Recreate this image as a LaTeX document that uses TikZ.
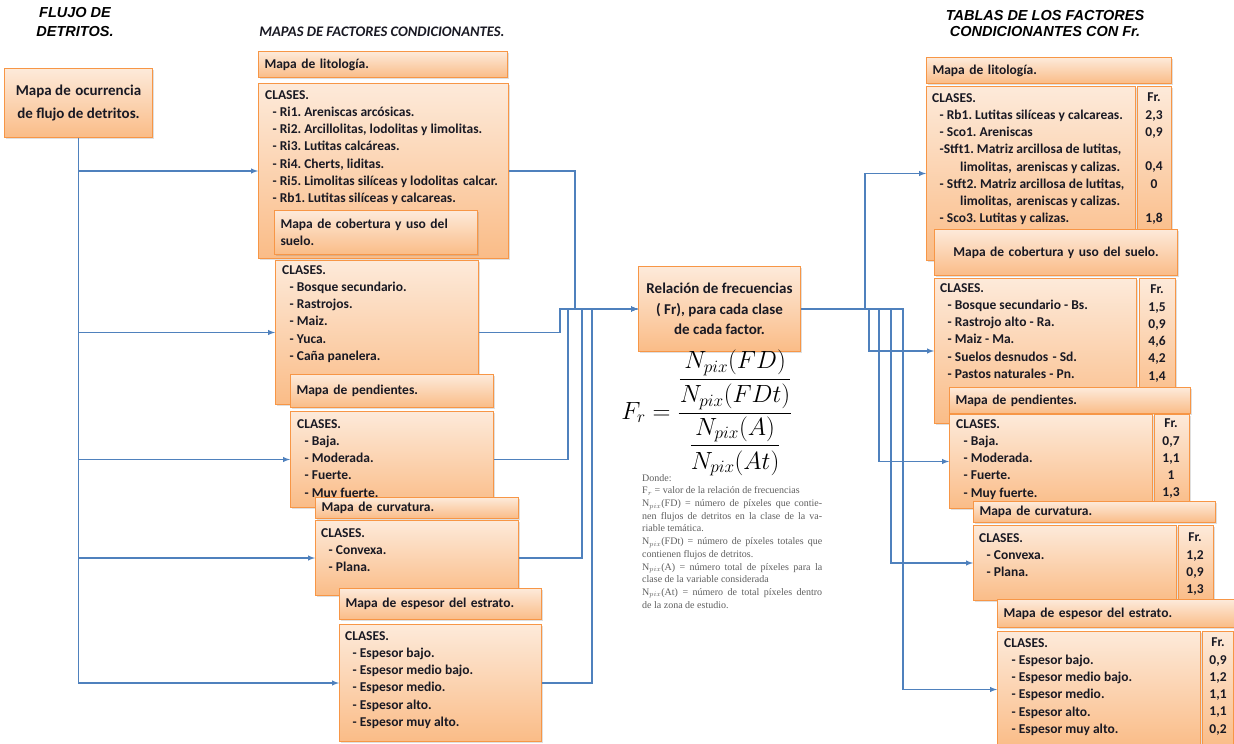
\documentclass[tikz,border=0pt]{standalone}
\usepackage{fontspec}
\setmainfont{Carlito}
\newfontfamily\titulofont{Liberation Sans}
\newfontfamily\notafont{Liberation Serif}
\usepackage{amsmath}
\usetikzlibrary{shadows}

\definecolor{cajaclara}{RGB}{253,234,218}
\definecolor{cajaosc}{RGB}{250,188,135}
\definecolor{cajaborde}{RGB}{247,150,70}
\definecolor{flecha}{RGB}{79,129,189}
\definecolor{letra}{RGB}{25,25,35}
\definecolor{nota}{RGB}{95,95,95}

\frenchspacing
\tolerance=9999
\hbadness=10000
\newcommand{\cls}{\hspace*{7.5pt}- }

\tikzset{
  caja/.style={draw=cajaborde, line width=1pt, top color=cajaclara, bottom color=cajaosc,
    drop shadow={shadow xshift=1.2pt, shadow yshift=-1.5pt, opacity=0.25},
    anchor=north west, inner sep=0pt},
  cabeza/.style={caja, align=left, inner xsep=6pt, text=letra,
    font=\bfseries\fontsize{13.5}{17.5}\selectfont},
  lista/.style={anchor=north west, inner sep=0pt, align=left, text=letra,
    font=\bfseries\fontsize{13.5}{17.25}\selectfont},
  valores/.style={anchor=north, inner sep=0pt, align=center, text=letra,
    font=\bfseries\fontsize{13.5}{17.25}\selectfont},
  titulo/.style={inner sep=0pt, align=center, text=black,
    font=\titulofont\bfseries\itshape\fontsize{14.5}{19}\selectfont},
  conector/.style={draw=flecha, line width=1.4pt},
}

\begin{document}
\begin{tikzpicture}[x=1pt,y=-1pt]
\useasboundingbox[fill=white] (0,0) rectangle (1234,744);

\node[titulo] (tflujo) at (75,22) {FLUJO DE\\DETRITOS.};
\node[inner sep=0pt, text=letra, font=\bfseries\itshape\fontsize{14.6}{17}\selectfont] (tmapas) at (382,32) {MAPAS DE FACTORES CONDICIONANTES.};
\node[titulo, font=\titulofont\bfseries\itshape\fontsize{14.5}{16}\selectfont] (ttablas) at (1045,24) {TABLAS DE LOS FACTORES\\CONDICIONANTES CON Fr.};

\node[caja, align=center, text=letra, font=\bfseries\fontsize{15}{23}\selectfont,
  minimum width=148pt, minimum height=69pt] (orig) at (4,68) {Mapa de\hspace{4.5pt}ocurrencia\\de flujo de detritos.};

\node[cabeza, text width=237pt, minimum height=26pt] (lithead) at (258,51) {Mapa de\hspace{4.5pt}litología.};
\node[caja, minimum width=250pt, minimum height=175pt] (litcls) at (258,83) {};
\node[lista] (littxt) at (265,90) {CLASES.\\\cls Ri1. Areniscas arcósicas.\\\cls Ri2. Arcillolitas, lodolitas y limolitas.\\\cls Ri3. Lutitas calcáreas.\\\cls Ri4. Cherts, liditas.\\\cls Ri5. Limolitas silíceas y lodolitas\hspace{4.5pt}calcar.\\\cls Rb1. Lutitas silíceas y calcareas.};

\node[cabeza, text width=191pt, minimum height=44pt] (cobhead) at (274,210) {Mapa de\hspace{4.5pt}cobertura y uso del\\suelo.};
\node[caja, minimum width=203pt, minimum height=144pt] (cobcls) at (275,260) {};
\node[lista] (cobtxt) at (282,265) {CLASES.\\\cls Bosque secundario.\\\cls Rastrojos.\\\cls Maiz.\\\cls Yuca.\\\cls Caña panelera.};

\node[cabeza, text width=191pt, minimum height=33pt] (penhead) at (290,374) {Mapa de\hspace{4.5pt}pendientes.};
\node[caja, minimum width=203pt, minimum height=96pt] (pencls) at (290,411) {};
\node[lista] (pentxt) at (297,419) {CLASES.\\\cls Baja.\\\cls Moderada.\\\cls Fuerte.\\\cls Muy fuerte.};

\node[cabeza, text width=191pt, minimum height=21pt] (curhead) at (315,497) {Mapa de\hspace{4.5pt}curvatura.};
\node[caja, minimum width=203pt, minimum height=75pt] (curcls) at (315,520) {};
\node[lista] (curtxt) at (321,528) {CLASES.\\\cls Convexa.\\\cls Plana.};

\node[cabeza, text width=190pt, minimum height=31pt] (esphead) at (339,588) {Mapa de\hspace{4.5pt}espesor del estrato.};
\node[caja, minimum width=202pt, minimum height=117pt] (espcls) at (339,624) {};
\node[lista] (esptxt) at (345,631) {CLASES.\\\cls Espesor bajo.\\\cls Espesor medio bajo.\\\cls Espesor medio.\\\cls Espesor alto.\\\cls Espesor muy alto.};

\node[caja, align=center, text=letra, font=\bfseries\fontsize{15}{20.5}\selectfont,
  minimum width=162pt, minimum height=85pt] (relfr) at (638,266) {Relación de frecuencias\\( Fr), para cada clase\\de cada factor.};

\node[inner sep=0pt, text=black, font=\fontsize{23}{27}\selectfont] (formula) at (707,413)
  {$F_r=\dfrac{\dfrac{N_{pix}(FD)}{N_{pix}(FDt)}}{\dfrac{N_{pix}(A)}{N_{pix}(At)}}$};
\node[anchor=north west, inner sep=0pt, text width=180pt, align=justify, text=nota,
  font=\notafont\fontsize{10}{12.7}\selectfont] (donde) at (642,474)
  {Donde:\\
  F$_r$ = valor de la relación de frecuencias\\
  N$_{pix}$(FD) = número de píxeles que contie-\linebreak nen flujos de detritos en la clase de la va-\linebreak riable temática.\\
  N$_{pix}$(FDt) = número de píxeles totales que\linebreak contienen flujos de detritos.\\
  N$_{pix}$(A) = número total de píxeles para la\linebreak clase de la variable considerada\\
  N$_{pix}$(At) = número de total píxeles dentro\linebreak de la zona de estudio.};

\node[cabeza, text width=233pt, minimum height=26pt] (tlithead) at (926,57) {Mapa de\hspace{4.5pt}litología.};
\node[caja, minimum width=209pt, minimum height=174pt] (tlitcls) at (926,86) {};
\node[caja, minimum width=34pt, minimum height=155pt] (tlitfr) at (1137,86) {};
\node[lista] (tlittxt) at (932,93) {CLASES.\\\cls Rb1. Lutitas silíceas y calcareas.\\\cls Sco1. Areniscas\\\hspace*{7.5pt}-Stft1. Matriz arcillosa de lutitas,\\\hspace*{28pt}limolitas,\hspace{4.5pt}areniscas y calizas.\\\cls Stft2. Matriz arcillosa de lutitas,\\\hspace*{28pt}limolitas,\hspace{4.5pt}areniscas y calizas.\\\cls Sco3. Lutitas y calizas.};
\node[valores] (tlitval) at (1154,93) {Fr.\\2,3\\0,9\\\mbox{}\\0,4\\0\\\mbox{}\\1,8};

\node[cabeza, align=center, text width=231pt, minimum height=46pt] (tcobhead) at (934,229) {Mapa de\hspace{4.5pt}cobertura y uso del suelo.};
\node[caja, minimum width=202pt, minimum height=145pt] (tcobcls) at (934,278) {};
\node[caja, minimum width=36pt, minimum height=125pt] (tcobfr) at (1139,278) {};
\node[lista] (tcobtxt) at (940,283) {CLASES.\\\cls Bosque secundario - Bs.\\\cls Rastrojo alto - Ra.\\\cls Maiz - Ma.\\\cls Suelos desnudos\hspace{4.5pt}- Sd.\\\cls Pastos naturales - Pn.};
\node[valores] (tcobval) at (1157,285) {Fr.\\1,5\\0,9\\4,6\\4,2\\1,4};

\node[cabeza, text width=229pt, minimum height=26pt] (tpenhead) at (949,387) {Mapa de\hspace{4.5pt}pendientes.};
\node[caja, minimum width=203pt, minimum height=94pt] (tpencls) at (949,414) {};
\node[caja, minimum width=35pt, minimum height=92pt] (tpenfr) at (1154,414) {};
\node[lista] (tpentxt) at (956,419) {CLASES.\\\cls Baja.\\\cls Moderada.\\\cls Fuerte.\\\cls Muy fuerte.};
\node[valores] (tpenval) at (1171,419) {Fr.\\0,7\\1,1\\1\\1,3};

\node[cabeza, text width=230pt, minimum height=21pt] (tcurhead) at (973,501) {Mapa de\hspace{4.5pt}curvatura.};
\node[caja, minimum width=203pt, minimum height=75pt] (tcurcls) at (973,525) {};
\node[caja, minimum width=35pt, minimum height=75pt] (tcurfr) at (1178,525) {};
\node[lista] (tcurtxt) at (979,533) {CLASES.\\\cls Convexa.\\\cls Plana.};
\node[valores] (tcurval) at (1195,533) {Fr.\\1,2\\0,9\\1,3};

\node[cabeza, text width=225pt, minimum height=28pt] (tesphead) at (997,599) {Mapa de\hspace{4.5pt}espesor del estrato.};
\node[caja, minimum width=203pt, minimum height=116pt] (tespcls) at (997,631) {};
\node[caja, minimum width=31pt, minimum height=116pt] (tespfr) at (1202,631) {};
\node[lista] (tesptxt) at (1004,638) {CLASES.\\\cls Espesor bajo.\\\cls Espesor medio bajo.\\\cls Espesor medio.\\\cls Espesor alto.\\\cls Espesor muy alto.};
\node[valores] (tespval) at (1218,638) {Fr.\\0,9\\1,2\\1,1\\1,1\\0,2};

\draw[conector,-latex] (orig.south) |- (litcls.west);
\draw[conector,-latex] (orig.south) |- (cobcls.west);
\draw[conector,-latex] (orig.south) |- (pencls.west);
\draw[conector,-latex] (orig.south) |- (curcls.west);
\draw[conector,-latex] (orig.south) |- (espcls.west);

\draw[conector,-latex] (litcls.east) -- ++(66,0) |- (relfr.west);
\draw[conector,-latex] (cobcls.east) -- ++(81,0) |- (relfr.west);
\draw[conector,-latex] (pencls.east) -- ++(74,0) |- (relfr.west);
\draw[conector,-latex] (curcls.east) -- ++(63,0) |- (relfr.west);
\draw[conector,-latex] (espcls.east) -- ++(50,0) |- (relfr.west);

\draw[conector,-latex] (relfr.east) -- ++(64,0) |- (tlitcls.west);
\draw[conector,-latex] (relfr.east) -- ++(68,0) |- (tcobcls.west);
\draw[conector,-latex] (relfr.east) -- ++(78,0) |- (tpencls.west);
\draw[conector,-latex] (relfr.east) -- ++(90,0) |- (tcurcls.west);
\draw[conector,-latex] (relfr.east) -- ++(102,0) |- (tespcls.west);
\end{tikzpicture}
\end{document}
